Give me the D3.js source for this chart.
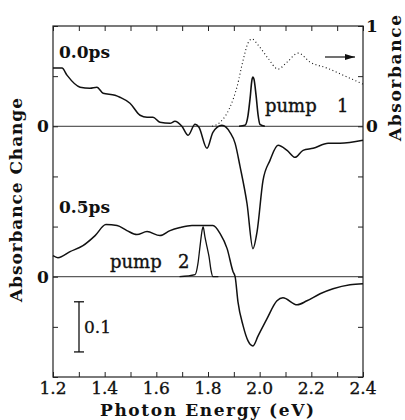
<!DOCTYPE html>
<html>
<head>
<meta charset="utf-8">
<script src="https://cdn.jsdelivr.net/npm/d3@7"></script>
<style>
  body { margin: 0; background: #fff; }
  svg text { font-family: "DejaVu Serif", serif; fill: #111; }
</style>
</head>
<body>
<div id="chart"></div>
<script>
// photon energy (eV) / absorbance change
const energy00 = [1.200, 1.235, 1.254, 1.305, 1.343, 1.370, 1.394, 1.440, 1.459, 1.498, 1.537, 1.564, 1.587, 1.614, 1.653, 1.672, 1.699, 1.723, 1.750, 1.765, 1.796, 1.819, 1.854, 1.885, 1.905, 1.924, 1.951, 1.974, 1.990, 2.013, 2.040, 2.071, 2.106, 2.137, 2.168, 2.207, 2.265, 2.311, 2.400];
const dA00 = [0.116, 0.116, 0.102, 0.078, 0.076, 0.078, 0.066, 0.062, 0.058, 0.046, 0.022, 0.018, 0.018, 0.008, 0.006, 0.010, 0.000, -0.018, 0.004, -0.002, -0.044, -0.012, 0.002, -0.012, -0.034, -0.080, -0.154, -0.244, -0.210, -0.108, -0.068, -0.038, -0.048, -0.062, -0.048, -0.044, -0.034, -0.034, -0.028];

const energy05 = [1.200, 1.219, 1.266, 1.316, 1.363, 1.405, 1.448, 1.486, 1.525, 1.564, 1.614, 1.653, 1.692, 1.738, 1.819, 1.847, 1.874, 1.897, 1.905, 1.916, 1.936, 1.955, 1.974, 1.994, 2.028, 2.067, 2.090, 2.145, 2.183, 2.234, 2.284, 2.350, 2.400];
const dA05 = [0.042, 0.038, 0.050, 0.062, 0.082, 0.104, 0.102, 0.092, 0.084, 0.090, 0.082, 0.092, 0.098, 0.102, 0.102, 0.086, 0.056, 0.010, 0.000, -0.050, -0.098, -0.128, -0.138, -0.118, -0.084, -0.048, -0.042, -0.056, -0.048, -0.034, -0.024, -0.016, -0.014];

// ground state absorbance (right axis)
const energyAbs = [1.816, 1.847, 1.885, 1.912, 1.936, 1.955, 1.970, 1.994, 2.032, 2.071, 2.106, 2.149, 2.195, 2.261, 2.323, 2.400];
const absorb = [0.00, 0.04, 0.19, 0.39, 0.66, 0.83, 0.87, 0.81, 0.68, 0.57, 0.64, 0.73, 0.64, 0.58, 0.51, 0.42];

// pump spectra
const energyPump1 = [1.920, 1.943, 1.955, 1.963, 1.970, 1.974, 1.978, 1.986, 1.994, 2.001, 2.020];
const pump1 = [0.000, 0.002, 0.022, 0.056, 0.092, 0.098, 0.094, 0.062, 0.022, 0.004, 0.000];
const energyPump2 = [1.690, 1.750, 1.761, 1.769, 1.777, 1.781, 1.788, 1.796, 1.804, 1.812, 1.819, 1.840];
const pump2 = [0.000, 0.004, 0.026, 0.060, 0.092, 0.100, 0.080, 0.060, 0.040, 0.012, 0.000, 0.000];

const xTicks = [1.2, 1.4, 1.6, 1.8, 2.0, 2.2, 2.4];
const offset00 = 0.3; // 0.0ps trace is shifted up

const width = 405, height = 420;
const margin = { top: 26, right: 42, bottom: 43, left: 53 };

let svg = d3.select("#chart").append("svg")
    .attr("width", width)
    .attr("height", height);

let x = d3.scaleLinear().domain([1.2, 2.4]).range([margin.left, width - margin.right]);
let y = d3.scaleLinear().domain([-0.2, 0.5]).range([height - margin.bottom, margin.top]);
let yAbs = d3.scaleLinear().domain([0, 1]).range([y(offset00), y(0.5)]);

// zero lines
[0, offset00].forEach((v) => {
    svg.append("line")
        .attr("x1", x(1.2)).attr("x2", x(2.4))
        .attr("y1", y(v)).attr("y2", y(v))
        .attr("stroke", "#333").attr("stroke-width", 1);
});

// frame + inward ticks
let minorX = d3.range(12).map((i) => 1.2 + i * 0.1).concat([2.4]);
let minorY = d3.range(8).map((i) => -0.2 + i * 0.1);

svg.append("g").attr("transform", `translate(0,${y(-0.2)})`)
    .call(d3.axisBottom(x).tickValues(minorX).tickSize(-5).tickFormat(""))
    .call(g => g.select(".domain").remove());
svg.append("g").attr("transform", `translate(0,${y(0.5)})`)
    .call(d3.axisTop(x).tickValues(minorX).tickSize(-5).tickFormat(""))
    .call(g => g.select(".domain").remove());
svg.append("g").attr("transform", `translate(${x(1.2)},0)`)
    .call(d3.axisLeft(y).tickValues(minorY).tickSize(-5).tickFormat(""))
    .call(g => g.select(".domain").remove());
svg.append("g").attr("transform", `translate(${x(2.4)},0)`)
    .call(d3.axisRight(y).tickValues(minorY).tickSize(-5).tickFormat(""))
    .call(g => g.select(".domain").remove());

svg.selectAll(".tick line").attr("stroke", "#222");

svg.append("rect")
    .attr("x", x(1.2)).attr("y", y(0.5))
    .attr("width", x(2.4) - x(1.2)).attr("height", y(-0.2) - y(0.5))
    .attr("fill", "none").attr("stroke", "#222").attr("stroke-width", 1.2);

// x tick labels
svg.selectAll(".xlab").data(xTicks).enter().append("text")
    .attr("x", d => x(d)).attr("y", 394)
    .attr("text-anchor", "middle")
    .attr("font-size", "17px")
    .attr("stroke", "#111").attr("stroke-width", 0.35)
    .text(d => d3.format(".1f")(d));

// lines
let line = d3.line().curve(d3.curveMonotoneX);

function trace(xs, ys, yfun, dash, w) {
    let pts = xs.map((e, i) => [x(e), yfun(ys[i])]);
    svg.append("path")
        .attr("d", line(pts))
        .attr("fill", "none")
        .attr("stroke", "#111")
        .attr("stroke-width", w)
        .attr("stroke-dasharray", dash)
        .attr("stroke-linejoin", "round");
}

trace(energyAbs, absorb, yAbs, "1,2.6", 1.1);
trace(energy00, dA00, v => y(v + offset00), null, 1.5);
trace(energy05, dA05, y, null, 1.5);
trace(energyPump1, pump1, v => y(v + offset00), null, 1.6);
trace(energyPump2, pump2, y, null, 1.3);

// zero / one labels
function label(px, py, txt, size, bold) {
    return svg.append("text").attr("x", px).attr("y", py)
        .attr("font-size", size + "px")
        .attr("font-weight", bold ? "bold" : "normal")
        .text(txt);
}
label(43, y(offset00) + 6, "0", 17, true).attr("text-anchor", "middle");
label(43, y(0) + 6, "0", 17, true).attr("text-anchor", "middle");
label(372, yAbs(0) + 6, "0", 17, true).attr("text-anchor", "middle");
label(372, yAbs(1) + 6, "1", 17, true).attr("text-anchor", "middle");

// trace labels
label(59, 58, "0.0ps", 17, true);
label(59, 213, "0.5ps", 17, true);
label(265, 112, "pump", 18, false).attr("stroke", "#111").attr("stroke-width", 0.35);
label(337, 112, "1", 18, false).attr("stroke", "#111").attr("stroke-width", 0.35);
label(110, 268, "pump", 18, false).attr("stroke", "#111").attr("stroke-width", 0.35);
label(178, 268, "2", 18, false).attr("stroke", "#111").attr("stroke-width", 0.35);

// arrow toward right axis
svg.append("defs").append("marker")
    .attr("id", "head").attr("viewBox", "0 0 10 6")
    .attr("refX", 10).attr("refY", 3)
    .attr("markerWidth", 10).attr("markerHeight", 6)
    .attr("markerUnits", "userSpaceOnUse")
    .attr("orient", "auto")
    .append("path").attr("d", "M0,0 L10,3 L0,6 Z").attr("fill", "#111");
svg.append("line")
    .attr("x1", 325).attr("x2", 355).attr("y1", 57).attr("y2", 57)
    .attr("stroke", "#111").attr("stroke-width", 1.2)
    .attr("marker-end", "url(#head)");

// 0.1 scale bar
let barX = 79;
svg.append("line").attr("x1", barX).attr("x2", barX)
    .attr("y1", y(-0.05)).attr("y2", y(-0.15)).attr("stroke", "#111").attr("stroke-width", 1.3);
[-0.05, -0.15].forEach((v) => {
    svg.append("line").attr("x1", barX - 5).attr("x2", barX + 5)
        .attr("y1", y(v)).attr("y2", y(v)).attr("stroke", "#111").attr("stroke-width", 1.3);
});
label(84, y(-0.1) + 6, "0.1", 17, false).attr("stroke", "#111").attr("stroke-width", 0.3);

// axis titles
svg.append("text")
    .attr("transform", `translate(22,200) rotate(-90)`)
    .attr("text-anchor", "middle")
    .attr("font-size", "17px").attr("font-weight", "bold")
    .attr("textLength", 204).attr("lengthAdjust", "spacing")
    .text("Absorbance Change");
svg.append("text")
    .attr("transform", `translate(401,78) rotate(-90)`)
    .attr("text-anchor", "middle")
    .attr("font-size", "17px").attr("font-weight", "bold")
    .attr("textLength", 126).attr("lengthAdjust", "spacing")
    .text("Absorbance");
svg.append("text")
    .attr("x", 207).attr("y", 416)
    .attr("text-anchor", "middle")
    .attr("font-size", "17px").attr("font-weight", "bold")
    .attr("textLength", 214).attr("lengthAdjust", "spacing")
    .text("Photon Energy (eV)");
</script>
</body>
</html>
